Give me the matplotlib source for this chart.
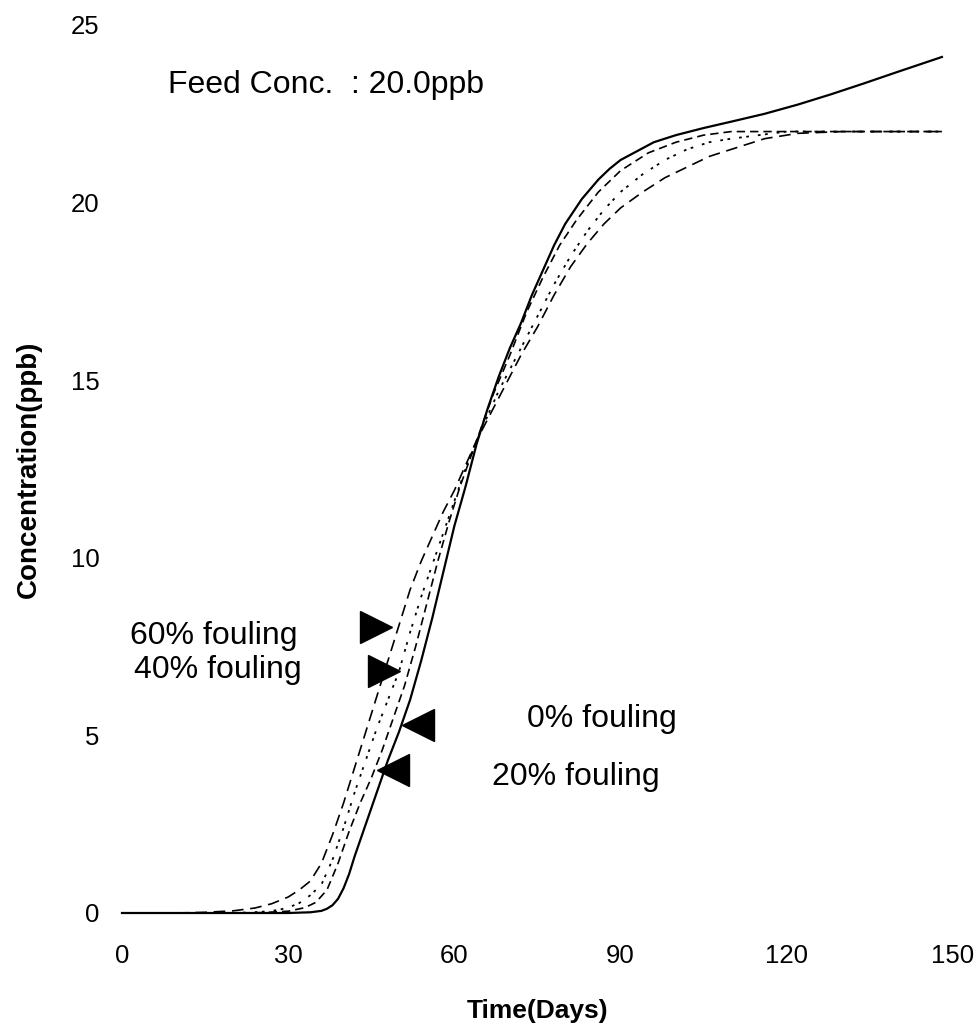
import numpy as np
import matplotlib
matplotlib.use('Agg')
import matplotlib.pyplot as plt

plt.rcParams['font.family'] = ['Liberation Sans', 'DejaVu Sans']

# curvas: tiempo (dias) y concentracion (ppb)
t_0 = [0, 10, 20, 30, 34, 36, 37, 38, 39, 40, 41, 42, 44, 46, 48, 50, 52, 54, 56, 58,
       60, 62, 64, 66, 68, 70, 72, 74, 76, 78, 80, 83, 86, 88, 90, 93, 96, 100, 105,
       110, 116, 122, 128, 134, 140, 148]
c_0 = [0, 0, 0, 0, 0.02, 0.06, 0.12, 0.22, 0.4, 0.7, 1.1, 1.6, 2.5, 3.4, 4.3, 5.1, 6.0,
       7.1, 8.3, 9.6, 10.9, 12.0, 13.2, 14.2, 15.1, 15.9, 16.6, 17.4, 18.1, 18.8, 19.4,
       20.1, 20.65, 20.95, 21.2, 21.45, 21.7, 21.9, 22.1, 22.28, 22.5, 22.76, 23.05,
       23.36, 23.68, 24.1]

t_20 = [0, 10, 20, 25, 30, 33, 35, 37, 39, 41, 43, 45, 47, 49, 51, 53, 55, 57, 59, 61,
        64, 67, 70, 73, 76, 79, 82, 86, 90, 95, 100, 105, 110, 116, 125, 135, 148]
c_20 = [0, 0, 0, 0.01, 0.05, 0.15, 0.3, 0.65, 1.4, 2.3, 3.1, 3.8, 4.6, 5.5, 6.4, 7.5,
        8.7, 9.9, 11.0, 12.0, 13.3, 14.6, 15.7, 16.9, 17.9, 18.8, 19.5, 20.3, 20.9,
        21.4, 21.7, 21.9, 22.0, 22.0, 22.0, 22.0, 22.0]

t_40 = [0, 10, 20, 25, 28, 30, 32, 34, 36, 38, 40, 42, 44, 46, 48, 50, 52, 54, 56, 58,
        60, 62, 64, 66, 68, 70, 72, 75, 78, 81, 84, 87, 90, 94, 98, 102, 106, 110, 115,
        120, 130, 140, 148]
c_40 = [0, 0, 0, 0.03, 0.08, 0.15, 0.28, 0.5, 0.8, 1.5, 2.4, 3.4, 4.3, 5.2, 6.0, 6.8,
        7.9, 8.9, 9.8, 10.7, 11.6, 12.5, 13.3, 14.0, 14.7, 15.3, 15.9, 16.8, 17.7, 18.5,
        19.2, 19.8, 20.3, 20.8, 21.2, 21.5, 21.7, 21.8, 21.9, 22.0, 22.0, 22.0, 22.0]

t_60 = [0, 10, 15, 20, 24, 27, 30, 32, 34, 36, 38, 40, 42, 44, 46, 48, 50, 52, 54, 56,
        58, 60, 62, 64, 66, 68, 70, 72, 75, 78, 81, 84, 87, 90, 94, 98, 102, 106, 110,
        116, 122, 130, 140, 148]
c_60 = [0, 0, 0.02, 0.06, 0.14, 0.26, 0.45, 0.65, 0.9, 1.4, 2.2, 3.1, 4.1, 5.1, 6.1,
        7.1, 8.1, 9.1, 9.9, 10.6, 11.3, 11.9, 12.6, 13.3, 13.9, 14.5, 15.1, 15.7, 16.5,
        17.4, 18.2, 18.85, 19.4, 19.85, 20.3, 20.7, 21.0, 21.3, 21.5, 21.8, 21.95, 22.0,
        22.0, 22.0]

x_ticks = [0, 30, 60, 90, 120, 150]
y_ticks = [0, 5, 10, 15, 20, 25]

etiquetas = ['60% fouling', '40% fouling', '0% fouling', '20% fouling']
etiq_xy = [(1.4, 7.8), (2.2, 6.85), (73.1, 5.45), (66.8, 3.83)]
# flechas (centro del triangulo) y direccion
flechas_xy = [(45.8, 8.06), (47.3, 6.8), (53.4, 5.3), (48.9, 4.03)]
flechas_dir = ['>', '>', '<', '<']

fig = plt.figure(figsize=(9.79, 10.29), dpi=100)
ax = fig.add_axes([122 / 979, 1 - 913 / 1029, 831 / 979, 888 / 1029])

ax.plot(t_0, c_0, color='black', lw=1.6, ls='-', clip_on=False)
ax.plot(t_20, c_20, color='black', lw=1.2, ls=(0, (5, 3)), clip_on=False)
ax.plot(t_40, c_40, color='black', lw=1.3, ls=(0, (1.5, 2.5, 1.5, 5)), clip_on=False)
ax.plot(t_60, c_60, color='black', lw=1.2, ls=(0, (7, 4)), clip_on=False)

for (fx, fy), m in zip(flechas_xy, flechas_dir):
    ax.plot(fx, fy, marker=m, ms=23, color='black', mec='black', ls='none', clip_on=False)

for txt, (tx, ty) in zip(etiquetas, etiq_xy):
    ax.text(tx, ty, txt, fontsize=23, ha='left', va='center')

ax.text(8.3, 23.3, 'Feed Conc.  : 20.0ppb', fontsize=23, ha='left', va='center')

ax.set_xlim(0, 150)
ax.set_ylim(0, 25)
ax.set_xticks(x_ticks)
ax.set_yticks(y_ticks)
ax.tick_params(axis='both', length=0, labelsize=18.5)
ax.tick_params(axis='x', pad=22)
ax.tick_params(axis='y', pad=16)
for s in ax.spines.values():
    s.set_visible(False)

ax.set_xlabel('Time(Days)', fontsize=19, fontweight='bold', va='center')
ax.set_ylabel('Concentration(ppb)', fontsize=20, fontweight='bold', va='center')
ax.xaxis.set_label_coords(0.5, -0.110)
ax.yaxis.set_label_coords(-0.112, 0.5)

fig.savefig('out.png', dpi=100)
